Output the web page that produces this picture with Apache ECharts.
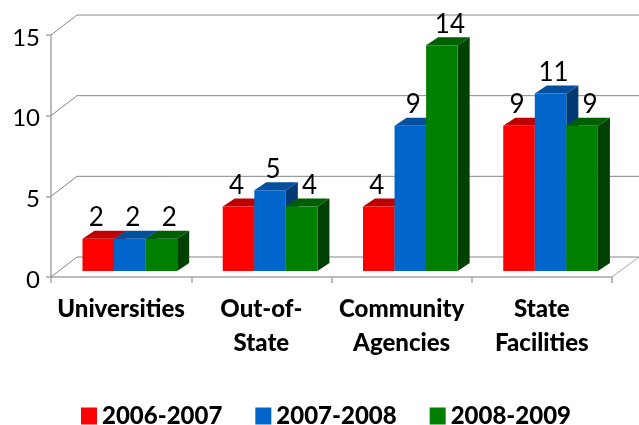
<!DOCTYPE html>
<html><head><meta charset="utf-8">
<style>html,body{margin:0;padding:0;background:#fff}#c{width:639px;height:425px}</style>
<script src="https://cdn.jsdelivr.net/npm/echarts@6/dist/echarts.min.js"></script>
</head><body><div id="c"></div>
<script>
const categories = ['Universities', 'Out-of-\nState', 'Community\nAgencies', 'State\nFacilities'];
const yTicks = [0, 5, 10, 15];
const seriesNames = ['2006-2007', '2007-2008', '2008-2009'];
const values0607 = [2, 4, 4, 9];
const values0708 = [2, 5, 9, 11];
const values0809 = [2, 4, 14, 9];

const FONT = 'Lato';
const DEPTH_X = 26, DEPTH_Y = 20;
const BAR_DX = 12, BAR_DY = 8, BAR_LIFT = 6, GROUP_SHIFT = 8.7, BAR_FRAC = 0.225;
const palette = [
  { front: '#ff0000', top: '#bf0000', side: '#800000', labelDx: -2 },
  { front: '#0066cc', top: '#054f9c', side: '#033a74', labelDx: 3 },
  { front: '#008000', top: '#005f00', side: '#004000', labelDx: 8 }
];

function barSeries(idx, vals) {
  const p = palette[idx];
  return {
    name: seriesNames[idx], type: 'custom', z: 3, clip: false,
    itemStyle: { color: p.front },
    encode: { x: 0, y: 1 },
    data: vals.map((v, i) => [i, v]),
    renderItem(params, api) {
      const c = api.coord([api.value(0), api.value(1)]);
      const base = api.coord([api.value(0), 0]);
      const w = api.size([1, 0])[0] * BAR_FRAC;
      const x0 = c[0] + GROUP_SHIFT + (idx - 1.5) * w;
      const x1 = x0 + w, yB = base[1] - BAR_LIFT, yT = c[1] - BAR_LIFT;
      const dx = BAR_DX, dy = BAR_DY;
      return { type: 'group', children: [
        { type: 'polygon', shape: { points: [[x1, yT], [x1 + dx, yT - dy], [x1 + dx, yB - dy], [x1, yB]] }, style: { fill: p.side } },
        { type: 'polygon', shape: { points: [[x0, yT], [x0 + dx, yT - dy], [x1 + dx, yT - dy], [x1, yT]] }, style: { fill: p.top } },
        { type: 'rect', shape: { x: x0, y: yT, width: x1 - x0, height: yB - yT }, style: { fill: p.front } },
        { type: 'text', z2: 50, style: { text: String(api.value(1)), x: (x0 + x1) / 2 + p.labelDx, y: yT - 8,
            align: 'center', verticalAlign: 'bottom', font: '26px ' + FONT, fill: '#000' } }
      ] };
    }
  };
}

const wallSeries = {
  type: 'custom', z: 1, silent: true, clip: false,
  encode: { x: 0, y: 1 },
  data: yTicks.map(t => [0, t]),
  renderItem(params, api) {
    const cs = params.coordSys;
    const y = api.coord([0, api.value(1)])[1];
    const x0 = cs.x, x1 = cs.x + cs.width;
    const line = { stroke: '#868686', lineWidth: 1, fill: null };
    const kids = [{ type: 'polyline', shape: { points: [[x0, y], [x0 + DEPTH_X, y - DEPTH_Y], [x1 + 27, y - DEPTH_Y]] }, style: line }];
    if (api.value(1) === 0) {
      kids.push({ type: 'line', shape: { x1: x1, y1: y, x2: x1 + 27, y2: y - DEPTH_Y }, style: { stroke: '#a6a6a6', lineWidth: 1 } });
    }
    return { type: 'group', children: kids };
  }
};

const chart = echarts.init(document.getElementById('c'), null, { renderer: 'canvas' });
chart.setOption({
  animation: false,
  backgroundColor: '#fff',
  grid: { left: 51, top: 35, width: 561, height: 242, containLabel: false },
  legend: {
    data: seriesNames, left: 76, top: 399, selectedMode: false, icon: 'rect',
    itemWidth: 16, itemHeight: 17, itemGap: 33,
    textStyle: { fontFamily: FONT, fontWeight: 900, fontSize: 24, color: '#000' }
  },
  xAxis: {
    type: 'category', data: categories,
    axisLine: { show: true, lineStyle: { color: '#a6a6a6', width: 1.5 } },
    axisTick: { show: true, length: 6, lineStyle: { color: '#a6a6a6', width: 1.5 } },
    axisLabel: { fontFamily: FONT, fontWeight: 900, fontSize: 24, lineHeight: 34, color: '#000', margin: 15, interval: 0 }
  },
  yAxis: {
    type: 'value', min: 0, max: 15, interval: 5,
    splitLine: { show: false },
    axisLine: { show: true, lineStyle: { color: '#a6a6a6', width: 1.5 } },
    axisTick: { show: true, length: 5, lineStyle: { color: '#a6a6a6', width: 1.5 } },
    axisLabel: { fontFamily: FONT, fontSize: 24, color: '#000', margin: 11, verticalAlign: 'top', lineHeight: 6 }
  },
  series: [wallSeries, barSeries(0, values0607), barSeries(1, values0708), barSeries(2, values0809)]
});
</script></body></html>
